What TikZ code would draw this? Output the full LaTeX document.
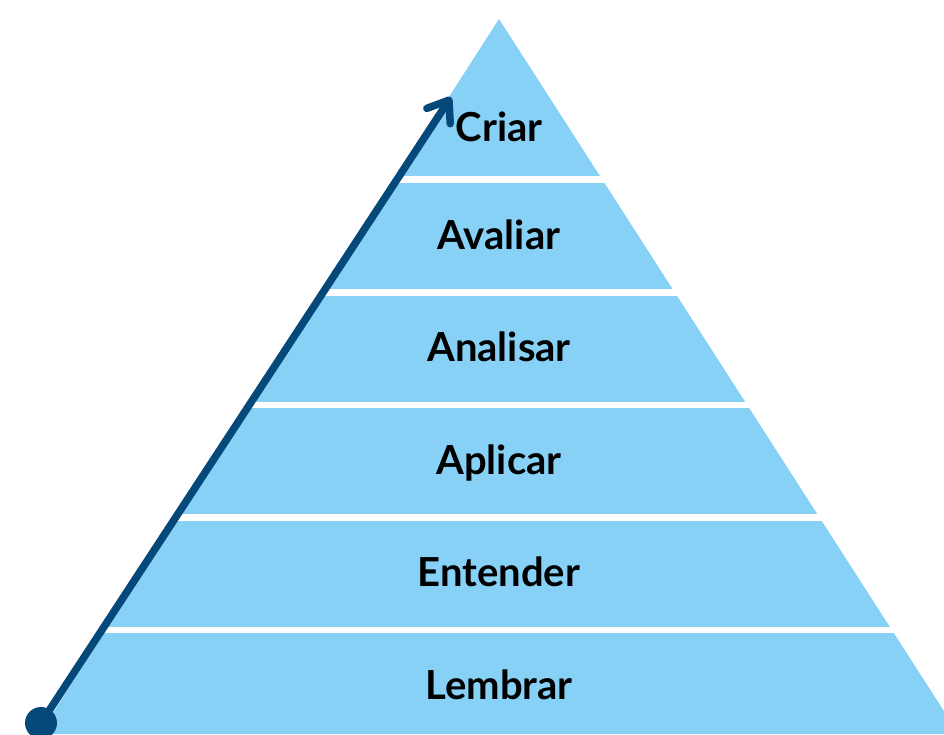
\documentclass[tikz,border=0pt]{standalone}
\usepackage{fontspec}
\setmainfont{Lato}
\usetikzlibrary{arrows.meta}
\definecolor{pyr}{HTML}{86D1F5}
\definecolor{arr}{HTML}{05487A}
\begin{document}
\begin{tikzpicture}[x=1pt,y=-1pt,
  lbl/.style={font=\fontsize{40}{44}\selectfont\bfseries, text=black, inner sep=0pt, anchor=base},
  gapline/.style={draw=white, line width=6.5pt},
  arrowline/.style={draw=arr, line width=7.5pt, line cap=round,
    -{Straight Barb[length=19pt 0, width=28pt 0, line cap=round, line join=round]}}]
\useasboundingbox (0,0) rectangle (944,734);
\clip (0,0) rectangle (944,734);
\fill[white] (0,0) rectangle (944,734);
\fill[pyr] (499,19) -- (958.7,734) -- (39.3,734) -- cycle;
\foreach \y in {179.5,292.5,405,517.5,630}
  \draw[gapline] (0,\y) -- (944,\y);
\node[lbl] (criar) at (499,141) {Criar};
\node[lbl] (avaliar) at (499,249) {Avaliar};
\node[lbl] (analisar) at (499,361) {Analisar};
\node[lbl] (aplicar) at (499,474) {Aplicar};
\node[lbl] (entender) at (499,586) {Entender};
\node[lbl] (lembrar) at (499,699) {Lembrar};
\node[circle, fill=arr, minimum size=32pt, inner sep=0pt] (start) at (41,723) {};
\coordinate (tip) at (451,97);
\draw[arrowline] (start.center) -- (tip);
\end{tikzpicture}
\end{document}
